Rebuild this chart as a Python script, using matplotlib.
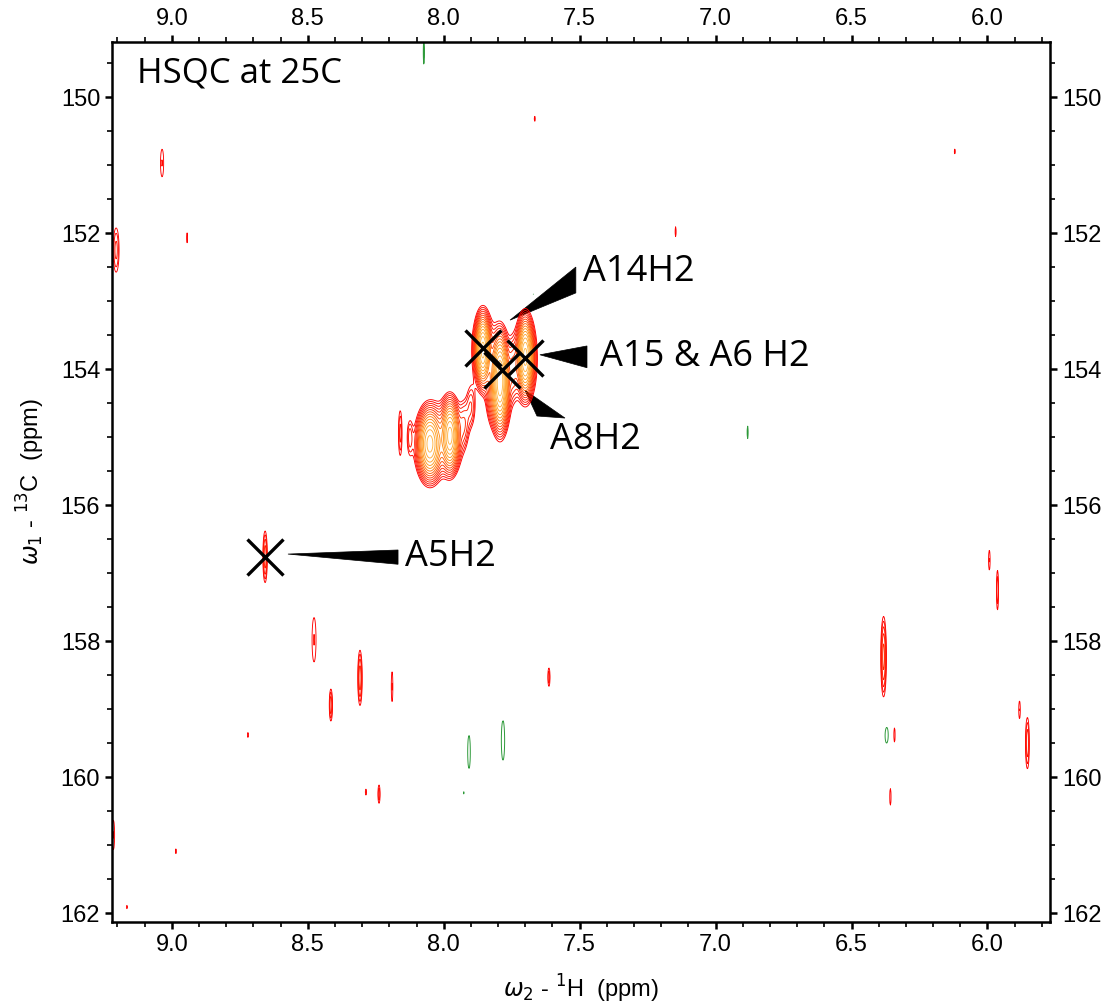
import numpy as np
import matplotlib
matplotlib.use("Agg")
import matplotlib.pyplot as plt
from matplotlib.colors import LinearSegmentedColormap
from matplotlib.patches import Polygon

# axis ranges (ppm)
h_range = (9.22, 5.77)
c_range = (149.19, 162.13)

# peak list: 1H ppm, 13C ppm, width 1H, width 13C, height (in units of lowest contour)
# first block: main adenine H2 cluster (sharp core + broad base)
pos_h = [7.700, 7.793, 7.856, 8.051, 7.977,
         7.700, 7.793, 7.856, 8.051, 7.977,
         8.160, 8.125, 7.925, 7.900, 7.825, 7.745,
         8.657, 9.036, 9.205, 8.944, 7.665, 7.147, 6.120,
         8.477, 8.415, 8.308, 8.190, 7.613, 8.286, 8.238, 8.720, 8.985, 9.165, 9.215,
         6.382, 6.342, 6.357, 5.993, 5.963, 5.882, 5.853]
pos_c = [153.82, 154.18, 153.72, 155.10, 154.98,
         153.85, 154.20, 153.72, 155.10, 154.98,
         154.94, 155.00, 154.80, 154.55, 154.35, 154.00,
         156.76, 150.97, 152.25, 152.07, 150.32, 151.98, 150.80,
         157.98, 158.94, 158.54, 158.67, 158.53, 160.22, 160.25, 159.38, 161.09, 161.91, 160.85,
         158.23, 159.38, 160.29, 156.81, 157.25, 159.01, 159.50]
pos_wh = [0.013, 0.014, 0.012, 0.020, 0.015,
          0.026, 0.026, 0.024, 0.034, 0.030,
          0.006, 0.008, 0.012, 0.012, 0.012, 0.012,
          0.006, 0.008, 0.010, 0.003, 0.003, 0.003, 0.003,
          0.010, 0.005, 0.006, 0.004, 0.004, 0.003, 0.004, 0.003, 0.003, 0.003, 0.006,
          0.007, 0.004, 0.004, 0.004, 0.004, 0.004, 0.006]
pos_wc = [0.24, 0.30, 0.22, 0.23, 0.23,
          0.38, 0.44, 0.34, 0.32, 0.32,
          0.30, 0.20, 0.22, 0.22, 0.25, 0.25,
          0.28, 0.28, 0.30, 0.12, 0.06, 0.12, 0.06,
          0.45, 0.20, 0.30, 0.30, 0.14, 0.06, 0.14, 0.06, 0.06, 0.06, 0.30,
          0.40, 0.18, 0.20, 0.20, 0.30, 0.18, 0.32]
pos_amp = [32.0, 36.0, 32.0, 24.0, 24.0,
           4.0, 4.0, 4.0, 4.0, 4.0,
           1.8, 1.6, 2.0, 2.0, 2.0, 2.5,
           2.5, 1.3, 1.8, 1.2, 1.2, 1.2, 1.2,
           1.3, 2.0, 2.5, 1.3, 1.6, 1.3, 1.6, 1.2, 1.2, 1.1, 1.3,
           3.0, 1.2, 1.2, 1.3, 1.6, 1.3, 2.0]

neg_h = [8.073, 6.882, 7.670, 7.907, 7.782, 7.926, 6.371]
neg_c = [149.34, 154.93, 152.90, 159.63, 159.46, 160.23, 159.38]
neg_wh = [0.003, 0.003, 0.003, 0.008, 0.010, 0.002, 0.010]
neg_wc = [0.25, 0.15, 0.05, 0.40, 0.48, 0.04, 0.20]
neg_amp = [1.3, 1.2, 1.1, 1.2, 1.2, 1.1, 1.2]

# assigned peaks (cross markers) and labels
assign_h = [8.657, 7.856, 7.786, 7.700]
assign_c = [156.76, 153.69, 154.01, 153.84]

labels = ["A14H2", "A15 & A6 H2", "A8H2", "A5H2"]
label_h = [7.488, 7.425, 7.609, 8.142]
label_c = [152.57, 153.82, 155.04, 156.76]
wedges = [
    [(7.756, 153.28), (7.514, 152.50), (7.514, 152.88)],
    [(7.646, 153.79), (7.473, 153.66), (7.473, 153.98)],
    [(7.701, 154.31), (7.554, 154.72), (7.657, 154.69)],
    [(8.573, 156.72), (8.168, 156.66), (8.168, 156.87)],
]

# build spectrum from the peak list
hx = np.linspace(h_range[0], h_range[1], 1900)
cy = np.linspace(c_range[0], c_range[1], 1100)
spec = np.zeros((cy.size, hx.size))
for h, c, wh, wc, a in zip(pos_h, pos_c, pos_wh, pos_wc, pos_amp):
    spec += a * np.outer(np.exp(-0.5 * ((cy - c) / wc) ** 2), np.exp(-0.5 * ((hx - h) / wh) ** 2))
for h, c, wh, wc, a in zip(neg_h, neg_c, neg_wh, neg_wc, neg_amp):
    spec -= a * np.outer(np.exp(-0.5 * ((cy - c) / wc) ** 2), np.exp(-0.5 * ((hx - h) / wh) ** 2))

levels = 1.0 * 1.28 ** np.arange(15)
cmap = LinearSegmentedColormap.from_list("posc", ["#ff0000", "#ff3000", "#ff9418", "#ffbc50"])
lev_colors = [cmap(i / (len(levels) - 1)) for i in range(len(levels))]

fig = plt.figure(figsize=(11.05, 10.06), dpi=100)
ax = fig.add_axes([0.1014, 0.0835, 0.8488, 0.8748])

ax.contour(hx, cy, spec, levels=levels, colors=lev_colors, linewidths=0.65)
ax.contour(hx, cy, spec, levels=[-1.2, -1.0], colors=["#2e9a3a", "#2e9a3a"], linewidths=0.7,
           linestyles="solid")

ax.plot(assign_h, assign_c, "x", color="black", markersize=26, mew=2.4, linestyle="none")

for w in wedges:
    ax.add_patch(Polygon(w, closed=True, facecolor="black", edgecolor="black", lw=0.5))
for t, h, c in zip(labels, label_h, label_c):
    ax.text(h, c, t, fontsize=26, family=["Open Sans", "DejaVu Sans"], ha="left", va="center")

ax.text(0.027, 0.964, "HSQC at 25C", transform=ax.transAxes, fontsize=25,
        family=["Open Sans", "DejaVu Sans"], ha="left", va="center")

ax.set_xlim(h_range)
ax.set_ylim(c_range[1], c_range[0])

ax.set_xticks(np.arange(6.0, 9.01, 0.5))
ax.set_xticks(np.arange(5.8, 9.21, 0.1), minor=True)
ax.set_yticks(np.arange(150, 162.1, 2))
ax.set_yticks(np.arange(149.5, 162.1, 0.5), minor=True)
ax.xaxis.set_major_formatter(matplotlib.ticker.FormatStrFormatter("%.1f"))

ax.tick_params(which="both", direction="out", top=True, right=True,
               labeltop=True, labelright=True, width=1.2, colors="black")
ax.tick_params(which="major", length=5, width=1.8, labelsize=17)
ax.tick_params(which="minor", length=3.5)
for lab in ax.get_xticklabels() + ax.get_yticklabels():
    lab.set_family(["Liberation Sans", "DejaVu Sans"])
for sp in ax.spines.values():
    sp.set_linewidth(1.8)

ax.set_xlabel(r"$\omega_2$ - $^1$H  (ppm)", fontsize=17, family=["Liberation Sans", "DejaVu Sans"],
              labelpad=12)
ax.set_ylabel(r"$\omega_1$ - $^{13}$C  (ppm)", fontsize=17, family=["Liberation Sans", "DejaVu Sans"],
              labelpad=10)

plt.savefig("out.png", dpi=100)
